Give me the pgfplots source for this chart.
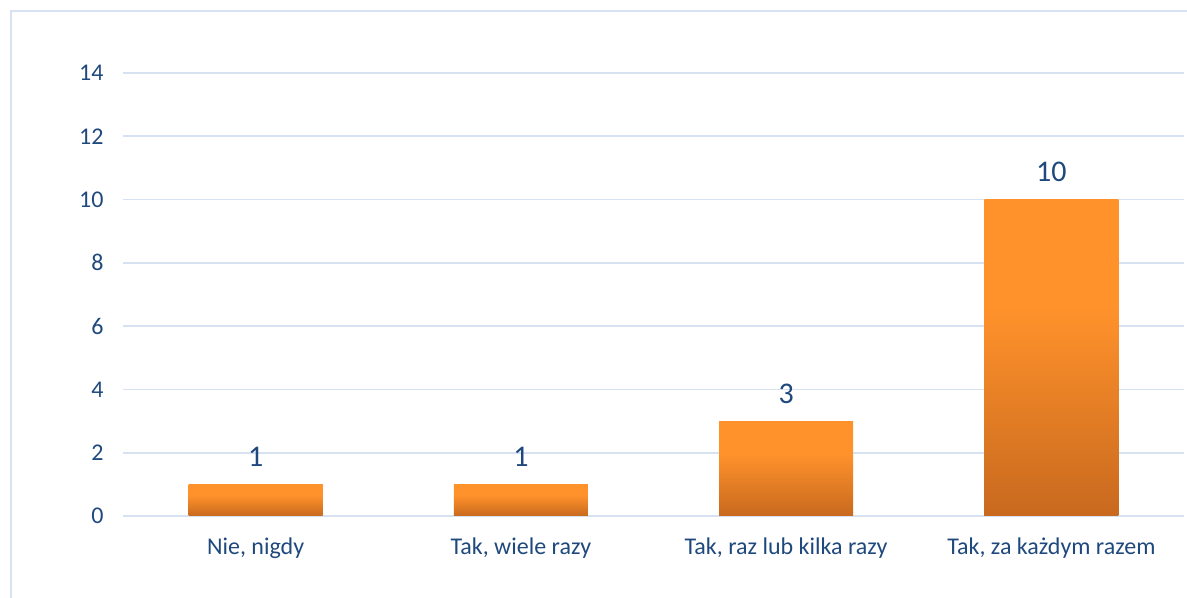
\documentclass[border=0pt]{standalone}
\usepackage{fontspec}
\setmainfont{Carlito}
\usepackage{pgfplots}
\pgfplotsset{compat=1.18}
\definecolor{txt}{HTML}{1F497D}
\definecolor{gridc}{HTML}{D6E2F2}
\definecolor{framec}{HTML}{D6E2F3}
\definecolor{bartop}{HTML}{FF922B}
\definecolor{barbot}{HTML}{C8691F}
\pgfdeclareverticalshading{barshade}{100bp}{color(0bp)=(barbot); color(25bp)=(barbot); color(58bp)=(bartop); color(75bp)=(bartop); color(100bp)=(bartop)}

\begin{document}
\begin{tikzpicture}
\path[use as bounding box] (0,0) rectangle (1187bp,598bp);
\draw[framec, line width=2bp] (11bp,-5bp) -- (11bp,587bp) -- (1192bp,587bp);
\begin{axis}[
  at={(123bp,82bp)}, anchor=south west,
  scale only axis, width=1061bp, height=443bp,
  xmin=-0.5, xmax=3.5, ymin=0, ymax=14,
  ytick={0,2,...,14},
  xtick={0,1,2,3},
  xticklabels={{Nie, nigdy}, {Tak, wiele razy}, {Tak, raz lub kilka razy}, {Tak, za każdym razem}},
  axis line style={draw=none},
  major tick length=0pt,
  ymajorgrids,
  grid style={gridc, line width=1.6bp},
  /pgf/number format/assume math mode=true,
  ticklabel style={text=txt, font=\fontsize{24bp}{28bp}\selectfont},
  yticklabel style={xshift=-16bp},
  xticklabel style={yshift=-18bp},
  ybar, bar width=134bp, bar shift=0pt,
  nodes near coords,
  nodes near coords style={text=txt, font=\fontsize{30bp}{34bp}\selectfont, yshift=14bp},
  every axis plot/.append style={draw=none, shading=barshade},
  clip=false,
]
% one plot per bar so each bar gets its own gradient
\addplot coordinates {(0,1)};
\addplot coordinates {(1,1)};
\addplot coordinates {(2,3)};
\addplot coordinates {(3,10)};
\end{axis}
\end{tikzpicture}
\end{document}
